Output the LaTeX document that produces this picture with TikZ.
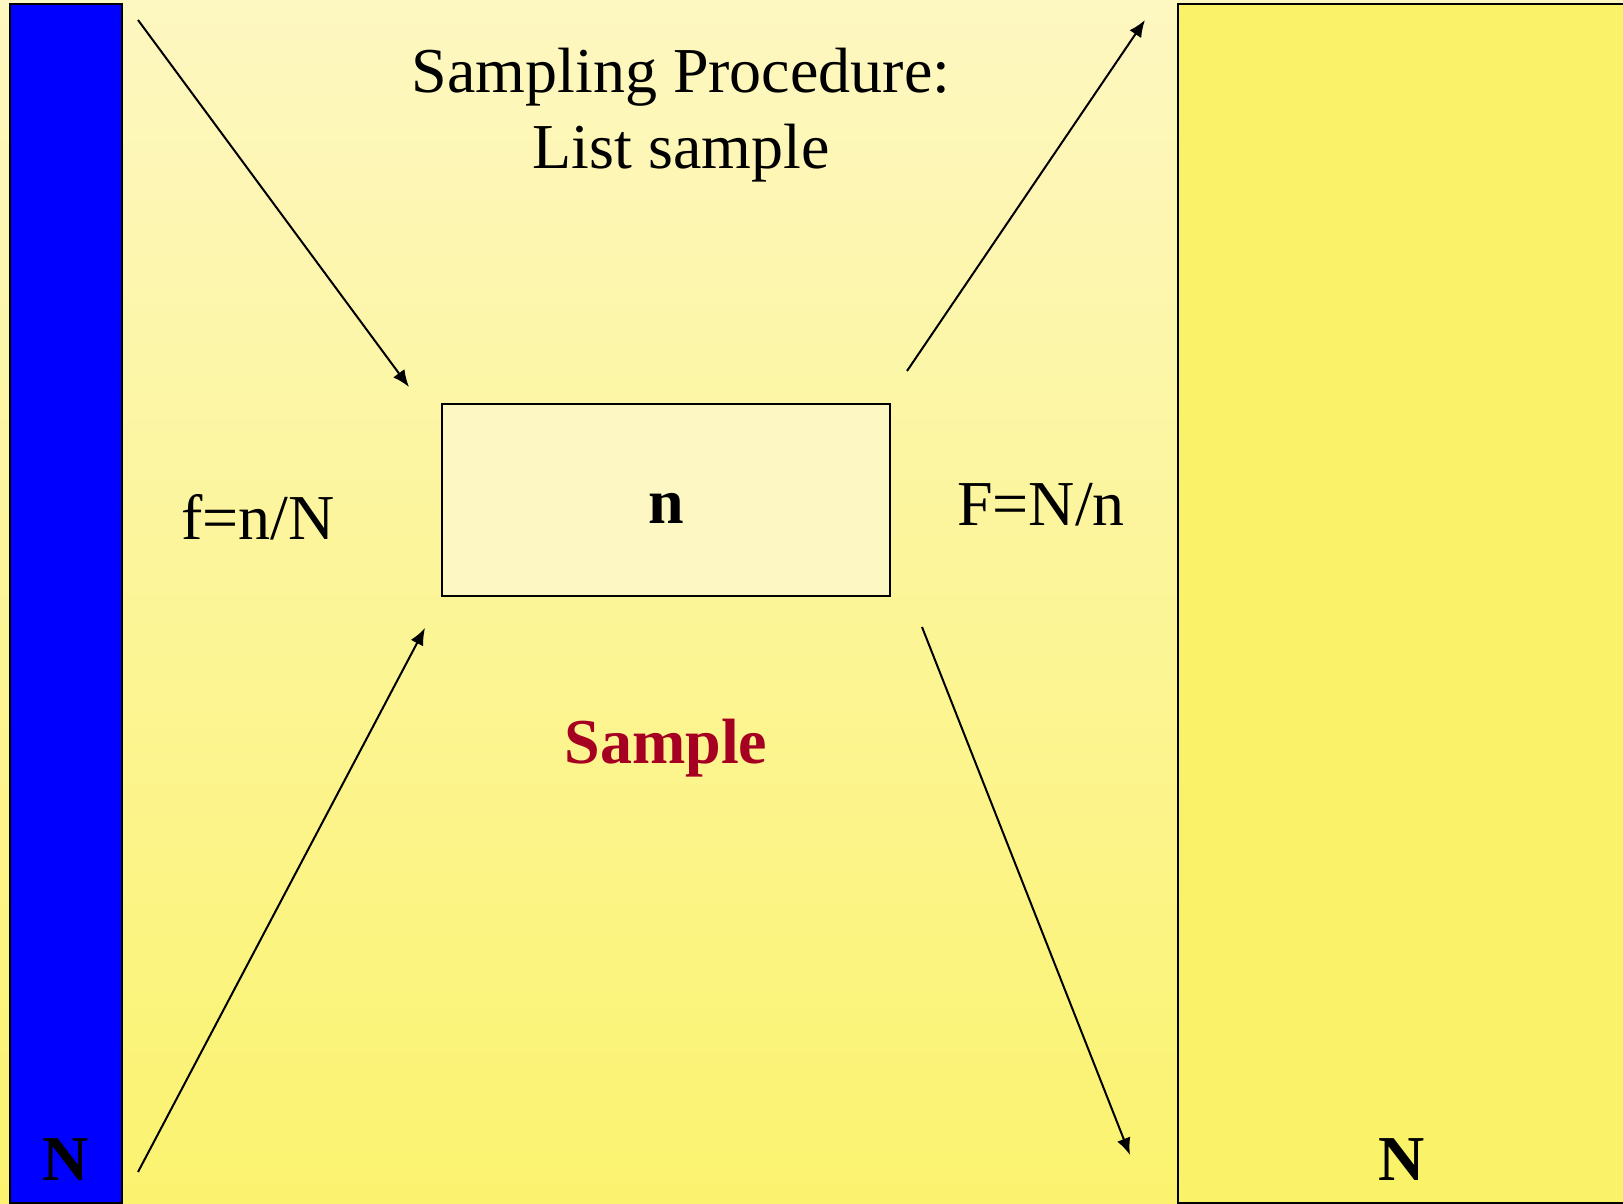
\documentclass[tikz,border=0pt]{standalone}
\usepackage{fontspec}
\setmainfont{Liberation Serif}
\usetikzlibrary{arrows.meta}
\definecolor{bgtop}{RGB}{253,247,193}
\definecolor{bgbot}{RGB}{251,243,111}
\definecolor{rightfill}{RGB}{250,242,105}
\definecolor{boxfill}{RGB}{253,247,196}
\definecolor{samplered}{RGB}{165,0,33}
\tikzset{
  label text/.style={anchor=base, inner sep=0pt, font=\fontsize{64}{72}\selectfont},
  bold text/.style={label text, font=\fontsize{64}{72}\selectfont\bfseries},
  flow/.style={line width=2pt, -{Latex[length=17pt,width=14pt]}},
}
\begin{document}
\begin{tikzpicture}[x=1pt,y=-1pt]
  \useasboundingbox (0,0) rectangle (1623,1204);
  % background gradient
  \shade[top color=bgtop, bottom color=bgbot] (0,0) rectangle (1623,1204);
  % population frame on the left
  \draw[line width=2.5pt, fill=blue] (10,4) rectangle (122,1203);
  % population on the right
  \draw[line width=2.5pt, fill=rightfill] (1178,4) rectangle (1640,1203);
  % sample box
  \node[draw, line width=2.2pt, fill=boxfill, minimum width=448pt, minimum height=192pt,
        inner sep=0pt] (box) at (666,500) {};
  \node[bold text] (n) at (666,523) {n};
  % titles
  \node[label text] (title1) at (681,93) {Sampling Procedure:};
  \node[label text] (title2) at (681,168) {List sample};
  \node[label text] (fsmall) at (258,539) {f=n/N};
  \node[label text] (fbig) at (1041,525) {F=N/n};
  \node[bold text, text=samplered] (sample) at (666,763) {Sample};
  \node[bold text] (nleft) at (66,1180) {N};
  \node[bold text] (nright) at (1402,1180) {N};
  % arrow end points
  \coordinate (a1s) at (138,20);   \coordinate (a1e) at (409,387);
  \coordinate (a2s) at (138,1172); \coordinate (a2e) at (425,628);
  \coordinate (a3s) at (907,371);  \coordinate (a3e) at (1145,20);
  \coordinate (a4s) at (922,627);  \coordinate (a4e) at (1130,1155);
  \draw[flow] (a1s) -- (a1e);
  \draw[flow] (a2s) -- (a2e);
  \draw[flow] (a3s) -- (a3e);
  \draw[flow] (a4s) -- (a4e);
\end{tikzpicture}
\end{document}
